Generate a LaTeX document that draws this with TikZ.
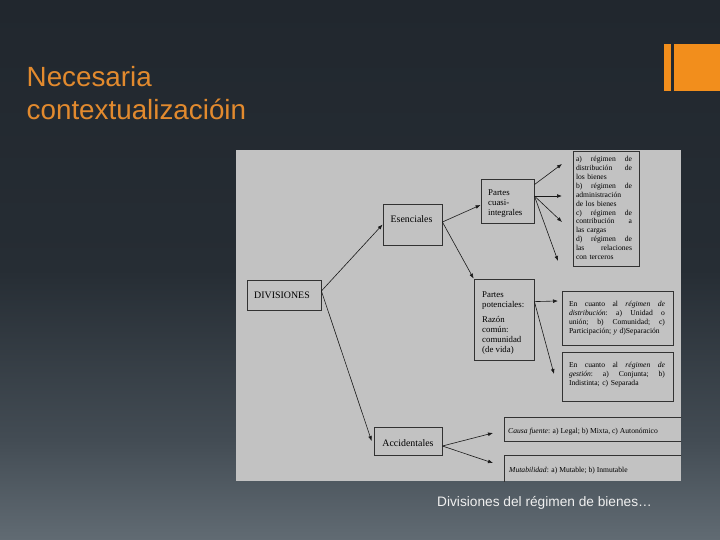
\documentclass[tikz,border=0pt]{standalone}
\usepackage{fontspec}
\setmainfont{Liberation Serif}
\newfontfamily\slidefont{Liberation Sans}
\usetikzlibrary{arrows.meta}
\definecolor{bgA}{HTML}{21272E}
\definecolor{bgB}{HTML}{262D34}
\definecolor{bgC}{HTML}{434C54}
\definecolor{bgD}{HTML}{616B73}
\definecolor{orangebar}{RGB}{242,142,28}
\definecolor{titleorange}{RGB}{226,138,46}
\definecolor{paper}{RGB}{194,194,194}
\definecolor{boxline}{RGB}{50,50,50}
\tikzset{
  box/.style={draw=boxline, line width=0.8pt, inner sep=0pt},
  txt/.style={inner sep=0pt, text=black},
  arr/.style={-{Latex[length=5pt,width=3.8pt]}, line width=0.6pt, draw=black!90},
  big/.style={font=\fontsize{9.9}{11}\selectfont},
  mid/.style={font=\fontsize{8.8}{10}\selectfont},
  small/.style={font=\fontsize{7.6}{8.9}\selectfont},
}
\begin{document}
\begin{tikzpicture}[x=1pt,y=-1pt]
\useasboundingbox (0,0) rectangle (720,540);
% background
\shade[top color=bgA, bottom color=bgB] (0,0) rectangle (720,270);
\shade[top color=bgB, bottom color=bgC] (0,270) rectangle (720,440);
\shade[top color=bgC, bottom color=bgD] (0,440) rectangle (720,540);
% orange bars
\fill[orangebar] (664,44) rectangle (671,91);
\fill[orangebar] (674,44) rectangle (720,91);
% title and caption
\node[anchor=base west, inner sep=0pt, text=titleorange, font=\slidefont\fontsize{27.8}{33}\selectfont] (title1) at (26.5,87) {Necesaria};
\node[anchor=base west, inner sep=0pt, text=titleorange, font=\slidefont\fontsize{27.8}{33}\selectfont] (title2) at (26.5,120) {contextualizacióin};
\node[anchor=base west, inner sep=0pt, text=white!94!black, font=\slidefont\fontsize{13.7}{16}\selectfont] (caption) at (437,506) {Divisiones del régimen de bienes\ldots};
% diagram
\fill[paper] (236,150) rectangle (681,481);
\begin{scope}
\clip (236,150) rectangle (681,481);
\node[box, minimum width=74pt, minimum height=30pt, big] (div) at (284,295) {};
\node[txt, big] (divt) at (282,295.5) {DIVISIONES};
\node[box, minimum width=59pt, minimum height=41pt] (esen) at (412.5,224.5) {};
\node[txt, big] (esent) at (411.5,219.5) {Esenciales};
\node[box, minimum width=68pt, minimum height=28pt] (acc) at (408,441) {};
\node[txt, big] (acct) at (408,443) {Accidentales};
\node[box, minimum width=53pt, minimum height=44pt] (cuasi) at (507.5,201) {};
\node[txt, mid, anchor=west, align=left] (cuasit) at (488,204) {Partes\\cuasi-\\integrales};
\node[box, minimum width=60pt, minimum height=81pt] (pot) at (504,319.5) {};
\node[txt, mid, anchor=west, align=left] (pott) at (482,323) {Partes\\potenciales:\\[5pt]Razón\\común:\\comunidad\\(de vida)};
\node[box, minimum width=66pt, minimum height=115pt] (ad) at (606,208.5) {};
\node[txt, small, text width=56pt, align=left] (adt) at (604,208) {%
a)\hfill régimen\hfill de\\
distribución\hfill de\\
los bienes\\
b)\hfill régimen\hfill de\\
administración\\
de los bienes\\
c)\hfill régimen\hfill de\\
contribución\hfill a\\
las cargas\\
d)\hfill régimen\hfill de\\
las\hfill relaciones\\
con terceros};
\node[box, minimum width=111pt, minimum height=54pt] (dist) at (617.5,318) {};
\node[txt, small, text width=96pt, align=left] (distt) at (617,318) {%
En\hfill cuanto\hfill al\hfill \textit{régimen}\hfill \textit{de}\\
\textit{distribución}:\hfill a)\hfill Unidad\hfill o\\
unión;\hfill b)\hfill Comunidad;\hfill c)\\
Participación; \textit{y} d)Separación};
\node[box, minimum width=111pt, minimum height=49pt] (gest) at (617.5,376.5) {};
\node[txt, small, text width=96pt, align=left] (gestt) at (617,375) {%
En\hfill cuanto\hfill al\hfill \textit{régimen}\hfill \textit{de}\\
\textit{gestión}:\hfill a)\hfill Conjunta;\hfill b)\\
Indistinta; c) Separada};
\node[box, minimum width=190pt, minimum height=24pt] (causa) at (599,429) {};
\node[txt, small, anchor=base west] (causat) at (508,433) {\textit{Causa fuente}: a) Legal; b) Mixta, c) Autonómico};
\node[box, minimum width=190pt, minimum height=32pt] (mut) at (599,471) {};
\node[txt, small, anchor=base west] (mutt) at (509,472.5) {\textit{Mutabilidad}: a) Mutable; b) Inmutable};
% free ends
\coordinate (e1) at (562,164);
\coordinate (e2) at (562,196);
\coordinate (e3) at (562,222);
\coordinate (e4) at (558,261);
\coordinate (p1) at (558,301);
\coordinate (p2) at (554,374);
\coordinate (a1) at (493,433);
\coordinate (a2) at (493,463);
% connectors
\draw[arr] ([yshift=4pt]div.east) -- (esen.west);
\draw[arr] ([yshift=4pt]div.east) -- ([xshift=-2pt]acc.west);
\draw[arr] ([yshift=2.5pt]esen.east) -- ([yshift=-4pt]cuasi.west);
\draw[arr] ([yshift=2.5pt]esen.east) -- (pot.north west);
\draw[arr] ([yshift=-6pt]cuasi.north east) -- (e1);
\draw[arr] ([yshift=5pt]cuasi.east) -- (e2);
\draw[arr] ([yshift=5pt]cuasi.east) -- (e3);
\draw[arr] ([yshift=5pt]cuasi.east) -- (e4);
\draw[arr] ([yshift=-23pt]pot.north east) -- (p1);
\draw[arr] ([yshift=-23pt]pot.north east) -- (p2);
\draw[arr] ([yshift=-5pt]acc.east) -- (a1);
\draw[arr] ([yshift=-5pt]acc.east) -- (a2);
\end{scope}
\end{tikzpicture}
\end{document}
